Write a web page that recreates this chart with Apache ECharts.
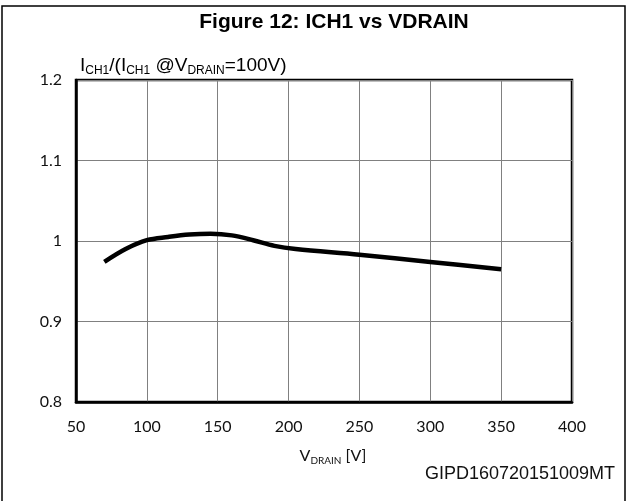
<!DOCTYPE html>
<html>
<head>
	<meta charset="UTF-8">
	<script src="https://cdn.jsdelivr.net/npm/echarts@6/dist/echarts.min.js"></script>
	<title></title>
</head>
<body style="margin:0;">
	<div id="main" style="height:501px;width:629px;"></div>
	<script type="text/javascript">
        // values
        var vdrain = [70, 85, 100, 115, 130, 145, 160, 175, 190, 205, 250, 300, 350];
        var ratio = [0.974, 0.99, 1.001, 1.005, 1.008, 1.009, 1.007, 1.001, 0.994, 0.990, 0.983, 0.974, 0.965];
        var xTicks = [50, 100, 150, 200, 250, 300, 350, 400];
        var yTicks = [0.8, 0.9, 1, 1.1, 1.2];

        var points = [];
        for (var i = 0; i < vdrain.length; i++) {
            points.push([vdrain[i], ratio[i]]);
        }

        var tickFont = {color: '#111', fontFamily: 'Lato', fontSize: 16};
        var myChart = echarts.init(document.getElementById('main'));
        var option = {
            backgroundColor: '#fff',
            animation: false,
            title: [
                {
                    text: 'Figure 12: ICH1 vs VDRAIN',
                    left: 329, top: 7, textAlign: 'center',
                    textStyle: {fontFamily: 'Liberation Sans', fontWeight: 'bold', fontSize: 21, color: '#000'}
                },
                {
                    // y axis name with subscripts
                    text: '{m|I}{s|CH1}{m|/(I}{s|CH1}{m| @V}{s|DRAIN}{m|=100V)}',
                    left: 75, top: 48,
                    textStyle: {
                        fontWeight: 'normal',
                        rich: {
                            m: {fontFamily: 'Liberation Sans', fontWeight: 'normal', fontSize: 19, color: '#000', verticalAlign: 'bottom', lineHeight: 22},
                            s: {fontFamily: 'Liberation Sans', fontWeight: 'normal', fontSize: 12, color: '#000', verticalAlign: 'bottom', lineHeight: 16, padding: [0, 0, -2, 0]}
                        }
                    }
                },
                {
                    text: '{m|V}{s|DRAIN}{m| [V]}',
                    left: 328, top: 441, textAlign: 'center',
                    textStyle: {
                        fontWeight: 'normal',
                        rich: {
                            m: {fontFamily: 'Lato', fontSize: 16, color: '#111', verticalAlign: 'bottom', lineHeight: 18},
                            s: {fontFamily: 'Lato', fontSize: 10, color: '#111', verticalAlign: 'bottom', lineHeight: 12, padding: [0, 0, -2, 0]}
                        }
                    }
                },
                {
                    text: 'GIPD160720151009MT',
                    left: 610, top: 460, textAlign: 'right',
                    textStyle: {fontFamily: 'Liberation Sans', fontWeight: 'normal', fontSize: 18, color: '#111'}
                }
            ],
            graphic: [
                {
                    type: 'rect', silent: true,
                    shape: {x: 2, y: 6, width: 623, height: 500},
                    style: {fill: null, stroke: '#000', lineWidth: 1.5}
                }
            ],
            grid: {
                left: 76, right: 57, top: 80, bottom: 99,
                show: true, borderColor: '#000', borderWidth: 2.5
            },
            xAxis: {
                type: 'value',
                min: xTicks[0], max: xTicks[xTicks.length - 1], interval: 50,
                axisLine: {lineStyle: {color: '#000', width: 2.5}},
                axisTick: {show: false},
                axisLabel: Object.assign({margin: 17}, tickFont),
                splitLine: {lineStyle: {color: '#808080', width: 1}}
            },
            yAxis: {
                type: 'value',
                min: yTicks[0], max: yTicks[yTicks.length - 1], interval: 0.1,
                axisLine: {show: true, lineStyle: {color: '#000', width: 2.5}},
                axisTick: {show: false},
                axisLabel: Object.assign({margin: 14}, tickFont),
                splitLine: {lineStyle: {color: '#808080', width: 1}}
            },
            series: [
                {
                    type: 'line',
                    data: points,
                    smooth: 0.35,
                    showSymbol: false,
                    lineStyle: {color: '#000', width: 4.5, cap: 'butt', join: 'round'}
                }
            ]
        };
        myChart.setOption(option);
	</script>
</body>
</html>
